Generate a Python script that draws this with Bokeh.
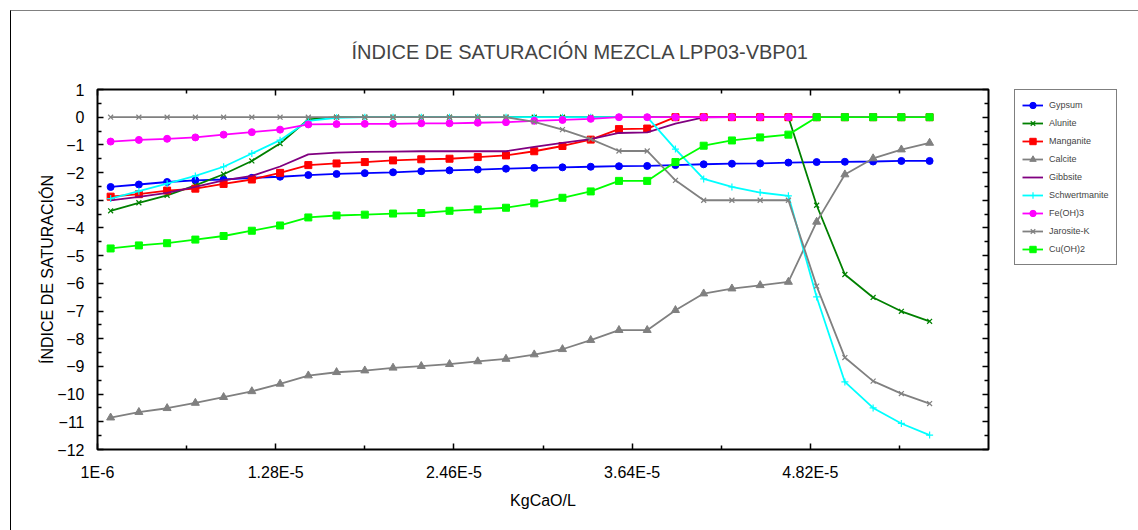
from bokeh.plotting import figure
from bokeh.layouts import row
from bokeh.models import (Range1d, FixedTicker, LinearAxis, CustomJSTickFormatter,
                          Legend, LegendItem)
from bokeh.embed import file_html
from bokeh.resources import INLINE

# ---------------- data ----------------
kg_cao = [1.87e-06, 3.74e-06, 5.61e-06, 7.48e-06, 9.35e-06, 1.122e-05, 1.309e-05,
          1.496e-05, 1.683e-05, 1.87e-05, 2.057e-05, 2.244e-05, 2.431e-05, 2.618e-05,
          2.805e-05, 2.992e-05, 3.179e-05, 3.366e-05, 3.553e-05, 3.74e-05, 3.927e-05,
          4.114e-05, 4.301e-05, 4.488e-05, 4.675e-05, 4.862e-05, 5.049e-05, 5.236e-05,
          5.423e-05, 5.61e-05]

gypsum = [-2.52, -2.43, -2.34, -2.28, -2.25, -2.19, -2.15, -2.09, -2.05, -2.02,
          -1.99, -1.95, -1.92, -1.89, -1.86, -1.83, -1.81, -1.79, -1.77, -1.76,
          -1.73, -1.70, -1.68, -1.67, -1.64, -1.62, -1.61, -1.60, -1.58, -1.58]
alunite = [-3.38, -3.09, -2.82, -2.46, -2.06, -1.58, -0.95, -0.08, 0.0, 0.0,
           0.0, 0.0, 0.0, 0.0, 0.0, 0.0, 0.0, 0.0, 0.0, 0.0,
           0.0, 0.0, 0.0, 0.0, 0.0, -3.18, -5.68, -6.51, -7.01, -7.37]
manganite = [-2.87, -2.78, -2.65, -2.58, -2.41, -2.25, -2.01, -1.73, -1.67, -1.62,
             -1.56, -1.52, -1.50, -1.44, -1.38, -1.23, -1.04, -0.81, -0.43, -0.41,
             0.0, 0.0, 0.0, 0.0, 0.0, 0.0, 0.0, 0.0, 0.0, 0.0]
calcite = [-10.85, -10.65, -10.51, -10.32, -10.11, -9.90, -9.63, -9.33, -9.21, -9.15,
           -9.05, -8.99, -8.92, -8.82, -8.73, -8.57, -8.38, -8.05, -7.69, -7.69,
           -6.97, -6.37, -6.19, -6.07, -5.95, -3.78, -2.07, -1.49, -1.17, -0.93]
gibbsite = [-3.00, -2.88, -2.73, -2.52, -2.28, -2.12, -1.78, -1.34, -1.28, -1.25,
            -1.24, -1.23, -1.23, -1.23, -1.23, -1.07, -0.93, -0.79, -0.57, -0.55,
            -0.23, -0.01, 0.0, 0.0, 0.0, 0.0, 0.0, 0.0, 0.0, 0.0]
schwertmanite = [-2.94, -2.67, -2.40, -2.12, -1.79, -1.31, -0.83, -0.13, -0.02, 0.0,
                 0.0, 0.0, 0.0, 0.0, 0.0, 0.0, 0.0, 0.0, 0.0, 0.0,
                 -1.15, -2.23, -2.52, -2.72, -2.84, -6.49, -9.56, -10.50, -11.06, -11.48]
fe_oh3 = [-0.88, -0.82, -0.78, -0.73, -0.63, -0.54, -0.45, -0.26, -0.25, -0.24,
          -0.24, -0.22, -0.22, -0.20, -0.18, -0.13, -0.10, -0.06, 0.0, 0.0,
          0.0, 0.0, 0.0, 0.0, 0.0, 0.0, 0.0, 0.0, 0.0, 0.0]
jarosite_k = [0.0, 0.0, 0.0, 0.0, 0.0, 0.0, 0.0, 0.0, 0.0, 0.0,
              0.0, 0.0, 0.0, 0.0, 0.0, -0.17, -0.45, -0.79, -1.22, -1.22,
              -2.28, -3.00, -3.00, -3.00, -3.00, -6.10, -8.68, -9.53, -9.98, -10.34]
cu_oh2 = [-4.74, -4.63, -4.55, -4.42, -4.29, -4.10, -3.91, -3.62, -3.55, -3.52,
          -3.48, -3.46, -3.38, -3.33, -3.27, -3.11, -2.91, -2.68, -2.30, -2.30,
          -1.62, -1.03, -0.84, -0.73, -0.63, 0.0, 0.0, 0.0, 0.0, 0.0]

x_ticks = [1e-06, 1.28e-05, 2.46e-05, 3.64e-05, 4.82e-05]
x_tick_labels = ["1E-6", "1.28E-5", "2.46E-5", "3.64E-5", "4.82E-5"]
x_minor_ticks = [6.9e-06, 1.87e-05, 3.05e-05, 4.23e-05, 5.41e-05]
y_ticks = [1, 0, -1, -2, -3, -4, -5, -6, -7, -8, -9, -10, -11, -12]
y_minor_ticks = [0.5, -0.5, -1.5, -2.5, -3.5, -4.5, -5.5, -6.5, -7.5, -8.5, -9.5,
                 -10.5, -11.5]

series = [
    ("Gypsum", gypsum, "#0000FF", "circle"),
    ("Alunite", alunite, "#008000", "x"),
    ("Manganite", manganite, "#FF0000", "square"),
    ("Calcite", calcite, "#808080", "triangle"),
    ("Gibbsite", gibbsite, "#800080", None),
    ("Schwertmanite", schwertmanite, "#00FFFF", "cross"),
    ("Fe(OH)3", fe_oh3, "#FF00FF", "circle"),
    ("Jarosite-K", jarosite_k, "#808080", "x"),
    ("Cu(OH)2", cu_oh2, "#00FF00", "square"),
]

FONT = "Liberation Sans"

p = figure(frame_width=891, frame_height=360, output_backend="svg",
           toolbar_location=None,
           x_range=Range1d(1e-06, 6.0e-05), y_range=Range1d(-12, 1),
           min_border_left=86, min_border_right=26, min_border_top=78,
           min_border_bottom=81, x_axis_type=None, y_axis_type=None,
           title="ÍNDICE DE SATURACIÓN MEZCLA LPP03-VBP01")
p.background_fill_color = "white"
p.border_fill_color = "white"
p.outline_line_color = "black"
p.outline_line_width = 2

p.title.text_font = FONT
p.title.text_font_size = "20px"
p.title.text_font_style = "normal"
p.title.align = "left"
p.title.offset = 254
p.title.standoff = 54

xticker = FixedTicker(ticks=x_ticks, minor_ticks=x_minor_ticks)
yticker = FixedTicker(ticks=y_ticks, minor_ticks=y_minor_ticks)
xfmt = CustomJSTickFormatter(args=dict(labels=x_tick_labels),
                             code="return labels[index] !== undefined ? labels[index] : '';")
blank = CustomJSTickFormatter(code="return '';")


def style_axis(ax):
    ax.axis_line_color = None
    ax.major_tick_in = 6
    ax.major_tick_out = 0
    ax.minor_tick_in = 4
    ax.minor_tick_out = 0
    ax.major_tick_line_color = "black"
    ax.minor_tick_line_color = "black"
    ax.major_tick_line_width = 1.5
    ax.minor_tick_line_width = 1.5
    ax.major_label_text_font = FONT
    ax.major_label_text_font_size = "16px"
    ax.major_label_text_color = "black"
    ax.axis_label_text_font = FONT
    ax.axis_label_text_font_size = "16px"
    ax.axis_label_text_font_style = "normal"
    ax.axis_label_text_color = "black"


xaxis = LinearAxis(ticker=xticker, formatter=xfmt, axis_label="KgCaO/L")
style_axis(xaxis)
xaxis.major_label_standoff = 14
xaxis.axis_label_standoff = 8
p.add_layout(xaxis, "below")

yaxis = LinearAxis(ticker=yticker, axis_label="ÍNDICE DE SATURACIÓN")
style_axis(yaxis)
yaxis.major_label_standoff = 13
yaxis.axis_label_standoff = -2
p.add_layout(yaxis, "left")

top_axis = LinearAxis(ticker=xticker, formatter=blank)
style_axis(top_axis)
top_axis.major_label_standoff = 0
p.add_layout(top_axis, "above")

right_axis = LinearAxis(ticker=yticker, formatter=blank)
style_axis(right_axis)
right_axis.major_label_standoff = 0
p.add_layout(right_axis, "right")

p.xgrid.ticker = xticker
p.ygrid.ticker = yticker
for g in (p.xgrid, p.ygrid):
    g.grid_line_color = "black"
    g.grid_line_width = 1
    g.grid_line_alpha = 1.0

# legend lives in a narrow companion figure to the right of the chart;
# its y range is far from the data so only the legend shows there
lf = figure(width=124, height=519, output_backend="svg", toolbar_location=None,
            x_range=Range1d(0, 1), y_range=Range1d(100, 101),
            x_axis_type=None, y_axis_type=None,
            min_border_left=0, min_border_right=0, min_border_top=78,
            min_border_bottom=0)
lf.outline_line_color = None
lf.background_fill_color = "white"
lf.border_fill_color = "white"
lf.xgrid.visible = False
lf.ygrid.visible = False


def add_series(fig, xs, vals, color, marker):
    rs = [fig.line(xs, vals, line_color=color, line_width=1.8)]
    if marker is not None:
        if marker in ("x", "cross"):
            rs.append(fig.scatter(xs, vals, marker=marker, size=7, line_color=color,
                                  line_width=1.2, fill_color=color))
        else:
            sz = 7 if marker != "triangle" else 8
            rs.append(fig.scatter(xs, vals, marker=marker, size=sz, line_color=color,
                                  fill_color=color))
    return rs


items = []
for name, vals, color, marker in series:
    add_series(p, kg_cao, vals, color, marker)
    rs = add_series(lf, kg_cao, vals, color, marker)
    items.append(LegendItem(label=name, renderers=rs))

legend = Legend(items=items, location="top_left")
legend.border_line_color = "black"
legend.border_line_width = 1
legend.background_fill_color = "white"
legend.background_fill_alpha = 1.0
legend.padding = 7
legend.spacing = 2
legend.margin = 0
legend.glyph_width = 21
legend.glyph_height = 16
legend.label_height = 16
legend.label_standoff = 6
legend.label_text_font = FONT
legend.label_text_font_size = "9px"
lf.add_layout(legend, "center")

layout = row(p, lf)
layout.margin = (10, 0, 0, 10)
layout.styles = {"border-left": "1px solid #000000", "border-top": "1px solid #808080"}

open("out.html", "w").write(file_html(layout, INLINE))
